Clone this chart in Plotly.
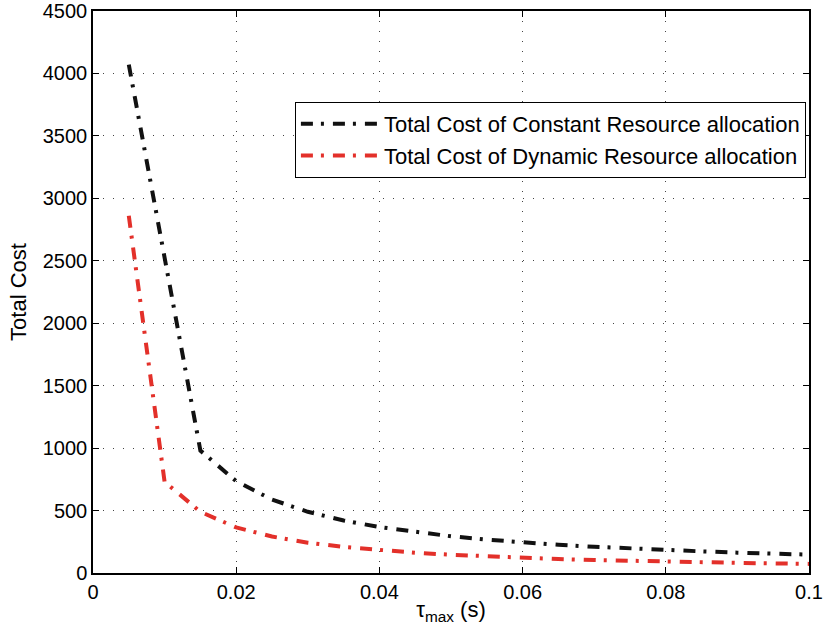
import plotly.graph_objects as go

tau = [0.005, 0.01, 0.015, 0.02, 0.025, 0.03, 0.035, 0.04, 0.045, 0.05,
       0.055, 0.06, 0.065, 0.07, 0.075, 0.08, 0.085, 0.09, 0.095, 0.1]
cost_constant = [4070, 2525, 980, 735, 588, 490, 420, 368, 327, 294,
                 267, 245, 226, 210, 196, 184, 173, 163, 155, 147]
cost_dynamic = [2860, 730, 490, 365, 292, 243, 209, 183, 162, 146,
                133, 122, 112, 104, 97, 91, 86, 81, 77, 73]

x_ticks = [0, 0.02, 0.04, 0.06, 0.08, 0.1]
x_tick_labels = ["0", "0.02", "0.04", "0.06", "0.08", "0.1"]
y_ticks = [0, 500, 1000, 1500, 2000, 2500, 3000, 3500, 4000, 4500]

dash = "12px,8px,3px,9px"
fig = go.Figure()
fig.add_trace(go.Scatter(x=tau, y=cost_constant, mode="lines",
                         name="Total Cost of Constant Resource allocation",
                         line=dict(color="#111111", width=4, dash=dash)))
fig.add_trace(go.Scatter(x=tau, y=cost_dynamic, mode="lines",
                         name="Total Cost of Dynamic Resource allocation",
                         line=dict(color="#e3302a", width=4, dash=dash)))

font_family = "Liberation Sans, Arial, sans-serif"
axis_common = dict(showline=True, linecolor="black", linewidth=1.5, mirror="allticks",
                   ticks="inside", ticklen=6, tickcolor="black",
                   showgrid=True, gridcolor="#444444", griddash="1px,9px", gridwidth=1.2,
                   zeroline=False, automargin=False, ticklabeloverflow="allow",
                   tickfont=dict(size=20, color="black"))

fig.update_layout(
    width=828, height=639,
    margin=dict(l=93, r=19, t=11, b=66),
    paper_bgcolor="white", plot_bgcolor="white",
    font=dict(family=font_family, size=20, color="black"),
    showlegend=True,
    legend=dict(x=0.282, y=0.838, xanchor="left", yanchor="top",
                bordercolor="black", borderwidth=1, bgcolor="white",
                font=dict(size=22), tracegroupgap=0, itemwidth=78),
    xaxis=dict(range=[0, 0.1], tickvals=x_ticks, ticktext=x_tick_labels,
               title=dict(text="τ<sub>max</sub> (s)", standoff=0, font=dict(size=22)),
               **axis_common),
    yaxis=dict(range=[0, 4500], tickvals=y_ticks,
               title=dict(text="Total Cost", standoff=10, font=dict(size=22)),
               **axis_common),
)
fig.write_html("out.html", config={"displayModeBar": False},
               post_script="document.body.style.margin='0';")
